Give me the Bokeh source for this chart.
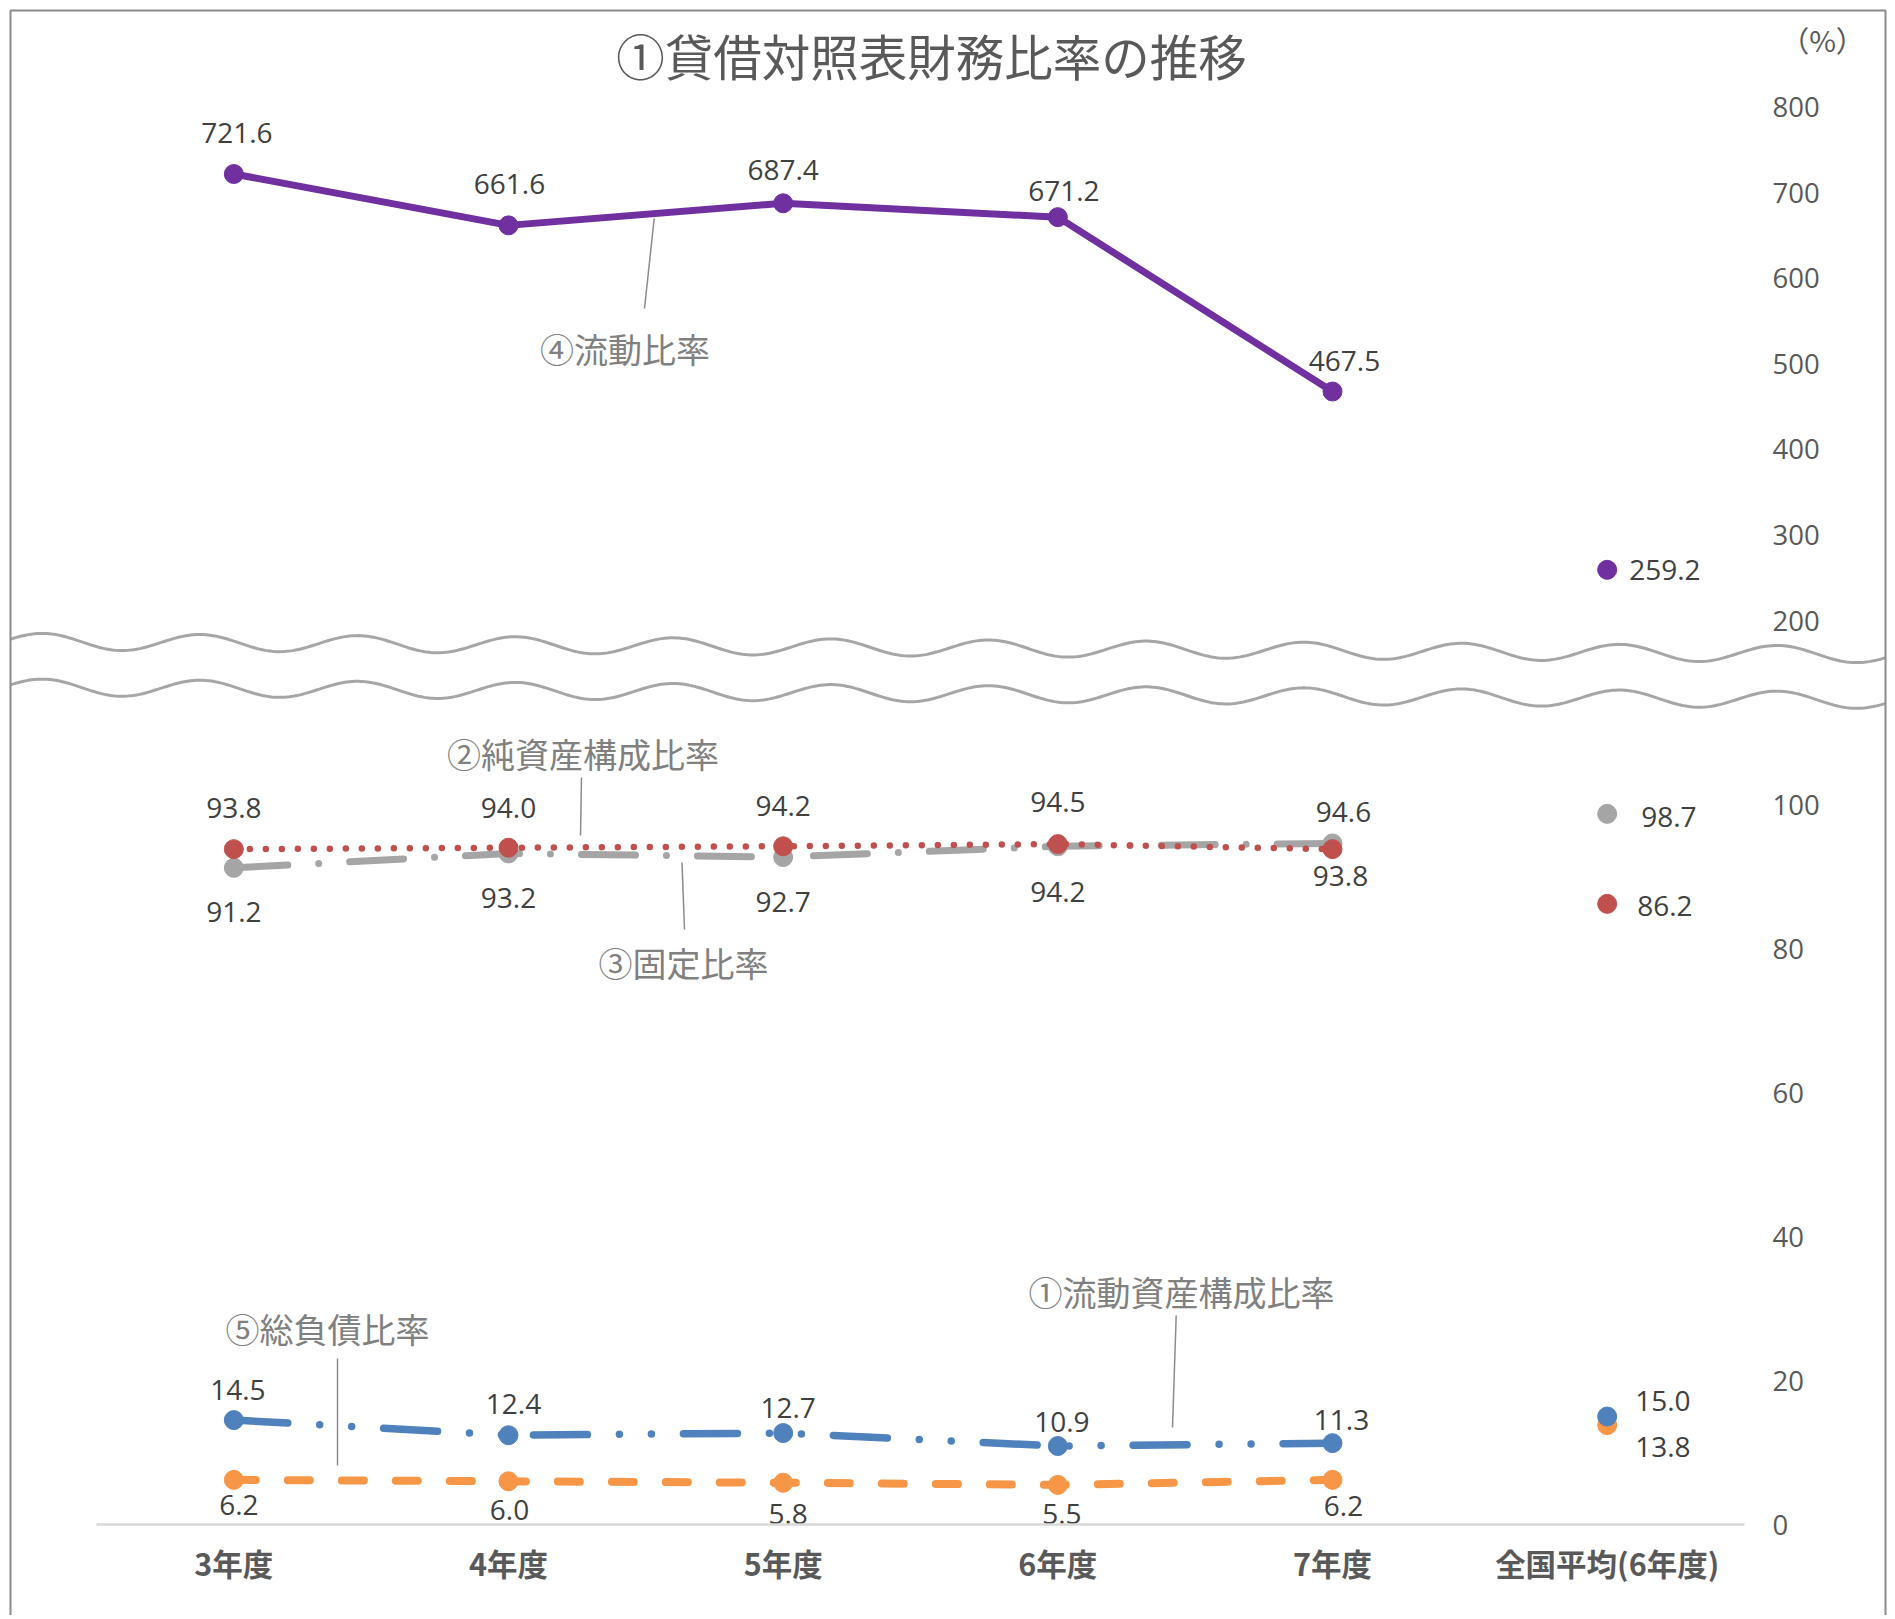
import math
from bokeh.plotting import figure
from bokeh.models import (ColumnDataSource, Range1d, FixedTicker, LinearAxis, Grid,
                          BoxAnnotation, Label)
from bokeh.embed import file_html
from bokeh.resources import INLINE
from bokeh.core.properties import value

# ---------------- data ----------------
categories = ["3年度", "4年度", "5年度", "6年度", "7年度"]
avg_category = "全国平均(6年度)"
all_categories = categories + [avg_category]

current_ratio = [721.6, 661.6, 687.4, 671.2, 467.5]          # ④流動比率
current_ratio_avg = 259.2
fixed_ratio = [91.2, 93.2, 92.7, 94.2, 94.6]                 # ③固定比率
fixed_ratio_avg = 98.7
equity_ratio = [93.8, 94.0, 94.2, 94.5, 93.8]                # ②純資産構成比率
equity_ratio_avg = 86.2
current_assets_ratio = [14.5, 12.4, 12.7, 10.9, 11.3]        # ①流動資産構成比率
current_assets_ratio_avg = 15.0
debt_ratio = [6.2, 6.0, 5.8, 5.5, 6.2]                       # ⑤総負債比率
debt_ratio_avg = 13.8

upper_ticks = [200, 300, 400, 500, 600, 700, 800]
lower_ticks = [0, 20, 40, 60, 80, 100]

title_text = "①貸借対照表財務比率の推移"
unit_text = "（%）"
series_names = {
    "current": "④流動比率",
    "equity": "②純資産構成比率",
    "fixed": "③固定比率",
    "debt": "⑤総負債比率",
    "cassets": "①流動資産構成比率",
}

# category positions on the numeric x scale
x_years = list(range(len(categories)))
x_avg = len(categories)
x_all = list(range(len(all_categories)))

# ---------------- layout (page pixels) ----------------
W, H = 1890, 1615
FRAME_L, FRAME_R = 96, 1744          # extent of the category axis
Y800, PPU_TOP = 106.4, 0.856         # upper panel: pixel of 800, px per unit
Y0, PPU_BOT = 1524.0, 7.2            # lower panel: pixel of 0, px per unit
BAND = (FRAME_R - FRAME_L) / len(all_categories)


def sx(X):
    return (X - FRAME_L) / BAND - 0.5


def vt(Y):
    return 800 - (Y - Y800) / PPU_TOP


def vb(Y):
    return (Y0 - Y) / PPU_BOT


NUM_FONT = "Open Sans"
JP_FONT = "Noto Sans CJK JP"
LABEL_COLOR = "#404040"
AXIS_COLOR = "#595959"
NOTE_COLOR = "#808080"
LEADER_COLOR = "#8C8C8C"
WAVE_COLOR = "#A6A6A6"
BORDER_COLOR = "#8C8C8C"

p = figure(width=W, height=H, x_range=Range1d(sx(0), sx(W)), y_range=Range1d(vb(H), vb(0)),
           output_backend="svg", toolbar_location=None, title=None,
           x_axis_location=None, y_axis_location=None,
           min_border=0, min_border_left=0, min_border_right=0,
           min_border_top=0, min_border_bottom=0)
p.extra_y_ranges = {"upper": Range1d(vt(H), vt(0))}
p.outline_line_color = None
p.background_fill_color = "white"
p.border_fill_color = "white"
for r in p.center:
    if isinstance(r, Grid):
        r.visible = False

# ---------------- axes ----------------
xa = LinearAxis(ticker=FixedTicker(ticks=x_all),
                major_label_overrides={i: c for i, c in zip(x_all, all_categories)},
                fixed_location=0, bounds=(-0.5, len(all_categories) - 0.5))
xa.axis_line_color = "#D9D9D9"
xa.axis_line_width = 2.5
xa.major_tick_line_color = None
xa.minor_tick_line_color = None
xa.major_tick_out = 0
xa.major_tick_in = 0
xa.major_label_standoff = 16
xa.major_label_text_font = JP_FONT
xa.major_label_text_font_style = "bold"
xa.major_label_text_font_size = "30.5px"
xa.major_label_text_color = AXIS_COLOR
p.add_layout(xa, "below")

for rng, ticks in (("default", lower_ticks), ("upper", upper_ticks)):
    ya = LinearAxis(y_range_name=rng, ticker=FixedTicker(ticks=ticks),
                    fixed_location=len(all_categories) - 0.5)
    ya.axis_line_color = None
    ya.major_tick_line_color = None
    ya.minor_tick_line_color = None
    ya.major_tick_out = 0
    ya.major_tick_in = 0
    ya.major_label_standoff = 28
    ya.major_label_text_font = NUM_FONT
    ya.major_label_text_font_size = "27.5px"
    ya.major_label_text_color = AXIS_COLOR
    p.add_layout(ya, "right")

# ---------------- outer border & break waves ----------------
p.add_layout(BoxAnnotation(left=sx(10), right=sx(1885), top=vb(10), bottom=vb(3000),
                           fill_color=None, line_color=BORDER_COLOR, line_alpha=1.0,
                           line_width=2))


def wave_y(X):
    base = 641 + 13 * (X - 10) / 1875
    return base + 8.3 * math.cos(2 * math.pi * (X - 121) / 157.7)


wx = [10 + 3 * i for i in range(626)]
for shift in (0.0, 45.7):
    p.line(x=[sx(X) for X in wx], y=[vb(wave_y(X) + shift) for X in wx],
           line_color=WAVE_COLOR, line_width=3, line_join="round")


# ---------------- series ----------------
def draw_series(vals, avg, color, width, dash, rng="default"):
    kw = dict(line_color=color, line_width=width, line_join="round", line_cap="round",
              y_range_name=rng)
    if dash is not None:
        kw["line_dash"] = dash
    p.line(x=x_years, y=vals, **kw)
    p.scatter(x=x_years, y=vals, size=19, fill_color=color, line_color=color,
              y_range_name=rng)
    p.scatter(x=[x_avg], y=[avg], size=19, fill_color=color, line_color=color,
              y_range_name=rng)


def draw_labels(vals, avg, offsets, avg_offset, rng="default"):
    src = ColumnDataSource(dict(x=x_years, y=vals, text=[f"{v:.1f}" for v in vals],
                                dx=[o[0] for o in offsets], dy=[o[1] for o in offsets]))
    p.text(x="x", y="y", text="text", x_offset="dx", y_offset="dy", source=src,
           text_font=value(NUM_FONT), text_font_size="28px", text_color=LABEL_COLOR,
           text_align="center", text_baseline="middle", y_range_name=rng)
    p.text(x=[x_avg], y=[avg], text=[f"{avg:.1f}"],
           x_offset=avg_offset[0], y_offset=avg_offset[1],
           text_font=value(NUM_FONT), text_font_size="28px", text_color=LABEL_COLOR,
           text_align="left", text_baseline="middle", y_range_name=rng)


draw_series(current_ratio, current_ratio_avg, "#7030A0", 7, None, "upper")
draw_series(debt_ratio, debt_ratio_avg, "#F79646", 8, "22 32")
draw_series(current_assets_ratio, current_assets_ratio_avg, "#4F81BD", 7.5,
            "54 32 0 32 0 32")
draw_series(fixed_ratio, fixed_ratio_avg, "#A5A5A5", 7, "54 31 0 31")
draw_series(equity_ratio, equity_ratio_avg, "#C0504D", 6.5, "0 16")

draw_labels(current_ratio, current_ratio_avg,
            [(3, -41), (1, -41), (0, -33), (6, -26), (12, -31)], (22, 0), "upper")
draw_labels(equity_ratio, equity_ratio_avg,
            [(0, -41), (0, -40), (0, -40), (0, -42), (8, 27)], (30, 2))
draw_labels(fixed_ratio, fixed_ratio_avg,
            [(0, 44), (0, 45), (0, 45), (0, 46), (11, -31)], (34, 3))
draw_labels(current_assets_ratio, current_assets_ratio_avg,
            [(4, -30), (5, -31), (5, -25), (4, -24), (9, -23)], (28, -16))
draw_labels(debt_ratio, debt_ratio_avg,
            [(5, 25), (1, 29), (5, 31), (4, 29), (11, 26)], (28, 22))

# ---------------- leader lines & series notes ----------------
notes = [
    ("current", 624.5, 348, [(653.7, 218), (644, 308)]),
    ("equity", 582.5, 753, [(581, 777), (580, 835)]),
    ("fixed", 683, 962, [(681.5, 862), (684, 929)]),
    ("debt", 327, 1328, [(337, 1358), (337, 1465)]),
    ("cassets", 1181, 1291, [(1175.7, 1315), (1172, 1427)]),
]
for key, X, Y, pts in notes:
    p.line(x=[sx(a) for a, b in pts], y=[vb(b) for a, b in pts],
           line_color=LEADER_COLOR, line_width=1.5)
    p.text(x=[sx(X)], y=[vb(Y)], text=[series_names[key]],
           text_font=value(JP_FONT), text_font_size="34px", text_color=NOTE_COLOR,
           text_align="center", text_baseline="middle")

# ---------------- title & unit ----------------
p.text(x=[sx(931)], y=[vb(54)], text=[title_text], text_font=value(JP_FONT),
       text_font_size="48.5px", text_color=AXIS_COLOR, text_align="center",
       text_baseline="middle")
p.add_layout(Label(x=sx(1822), y=vb(38.5), text=unit_text, text_font=JP_FONT,
                   text_font_size="29px", text_color=AXIS_COLOR, text_align="center",
                   text_baseline="middle"))

open("out.html", "w").write(file_html(p, INLINE))
